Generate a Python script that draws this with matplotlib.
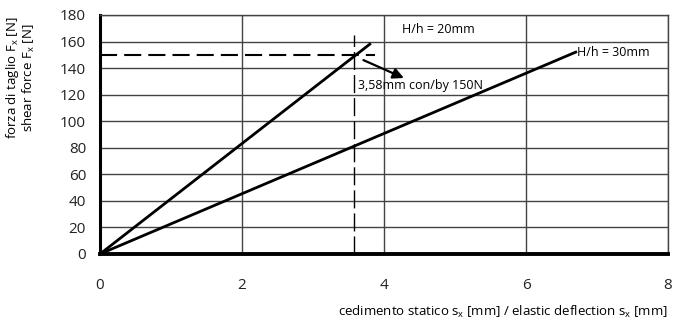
import matplotlib
matplotlib.use("Agg")
from matplotlib import pyplot as plt

# data
x_20 = [0, 3.8]
y_20 = [0, 158]
x_30 = [0, 6.7]
y_30 = [0, 152]
s_mark = 3.58
f_mark = 150
x_ticks = [0, 2, 4, 6, 8]
y_ticks = [0, 20, 40, 60, 80, 100, 120, 140, 160, 180]

plt.rcParams['font.family'] = ['Open Sans', 'DejaVu Sans']

fig = plt.figure(figsize=(6.82, 3.25), dpi=100)
ax = fig.add_axes([0.1466, 0.2185, 0.8329, 0.7355])

ax.set_xlim(0, 8)
ax.set_ylim(0, 180)
ax.set_xticks(x_ticks)
ax.set_yticks(y_ticks)
ax.tick_params(length=0, labelsize=11, colors='#222222')
ax.tick_params(axis='x', pad=17)
ax.tick_params(axis='y', pad=10)

# grid
for yv in y_ticks[1:]:
    ax.axhline(yv, color='#444444', lw=1.0, zorder=1)
for xv in x_ticks[1:]:
    ax.axvline(xv, color='#444444', lw=1.0, zorder=1)

for side in ['top', 'right']:
    ax.spines[side].set_linewidth(1.0)
    ax.spines[side].set_color('#444444')
ax.spines['left'].set_linewidth(2.2)
ax.spines['bottom'].set_linewidth(2.8)

# curves
ax.plot(x_20, y_20, color='black', lw=2.0, zorder=3)
ax.plot(x_30, y_30, color='black', lw=2.0, zorder=3)

# marker lines
ax.plot([0, 3.87], [f_mark, f_mark], color='black', lw=1.5,
        dashes=(8.2, 3.4), zorder=3)
ax.plot([s_mark, s_mark], [0, 165], color='black', lw=1.0,
        dashes=(13, 3.6), zorder=3)

ax.annotate('', xy=(4.28, 132.5), xytext=(3.71, 146),
            arrowprops=dict(arrowstyle='-|>', color='black', lw=1.6,
                            mutation_scale=16, shrinkA=0, shrinkB=0),
            zorder=4)

ax.text(4.25, 169, 'H/h = 20mm', fontsize=9, va='center', ha='left')
ax.text(6.72, 152, 'H/h = 30mm', fontsize=9, va='center', ha='left')
ax.text(3.63, 127, '3,58mm con/by 150N', fontsize=9, va='center', ha='left')

fig.text(0.03, 0.76, 'forza di taglio F$_\\mathregular{x}$ [N]\nshear force F$_\\mathregular{x}$ [N]',
         rotation=90, ha='center', va='center', fontsize=9.5, linespacing=1.0)
fig.text(0.9795, 0.04, 'cedimento statico s$_\\mathregular{x}$ [mm] / elastic deflection s$_\\mathregular{x}$ [mm]',
         ha='right', va='center', fontsize=9.5)

fig.savefig('out.png', dpi=100)
